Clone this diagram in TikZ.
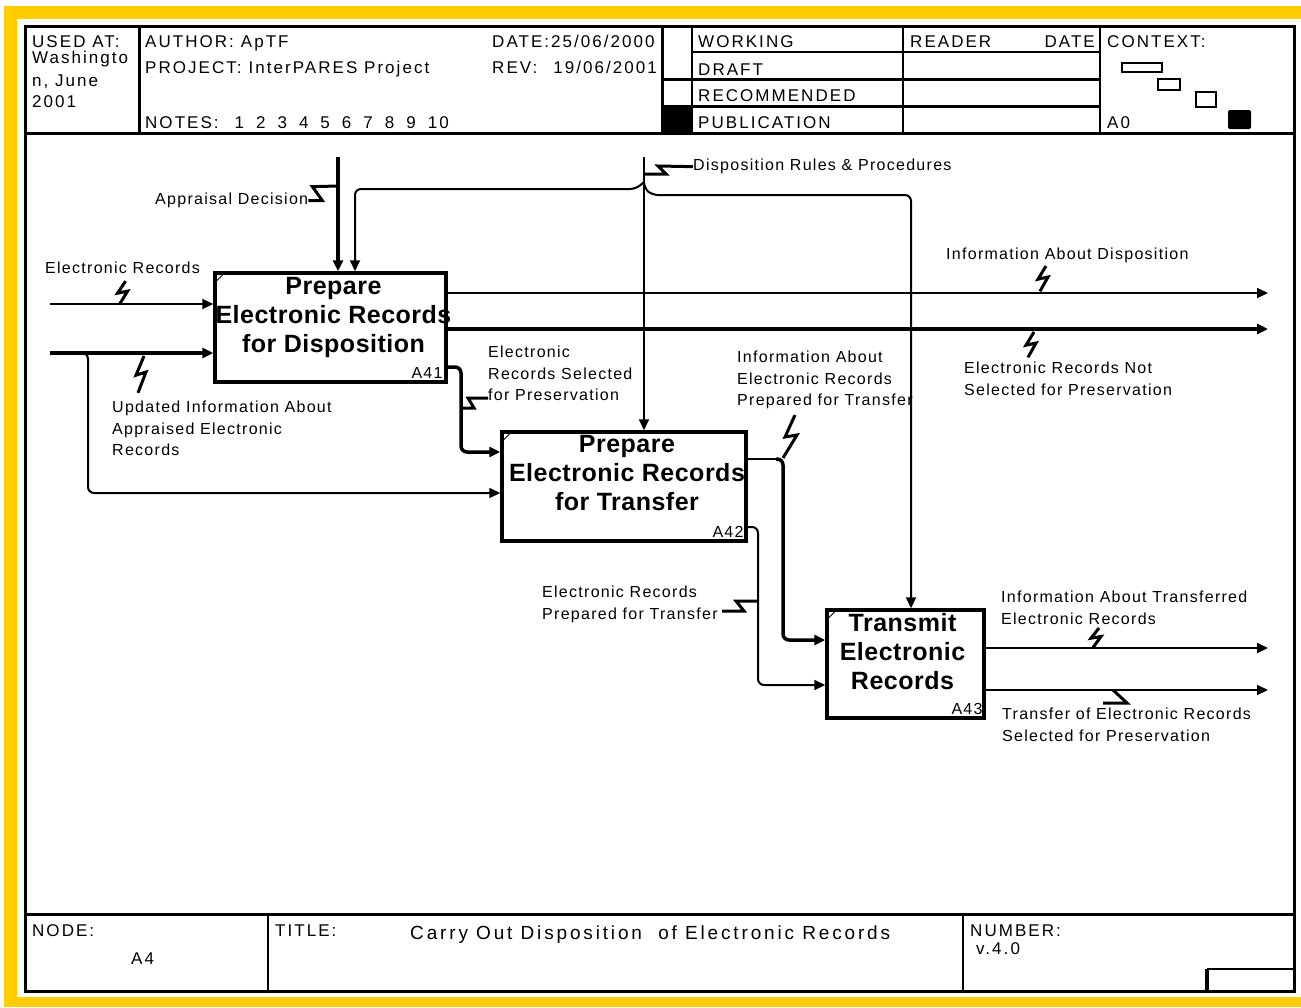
\documentclass[tikz,border=0pt]{standalone}
\usepackage{fontspec}
\setmainfont{Liberation Sans}
\newfontfamily\lblfam[LetterSpace=8]{Liberation Sans}
\newfontfamily\hdrfam[LetterSpace=12]{Liberation Sans}
\newfontfamily\boxfam[LetterSpace=2]{Liberation Sans}
\newfontfamily\ttlfam[LetterSpace=15]{Liberation Sans}
\newcommand\lblfont{\lblfam\fontsize{16}{21.5}\selectfont}
\newcommand\hdrfont{\hdrfam\fontsize{17}{20}\selectfont}
\newcommand\boxfont{\boxfam\bfseries\fontsize{25}{29}\selectfont}
\newcommand\ttlfont{\ttlfam\fontsize{19}{22}\selectfont}
\usetikzlibrary{arrows.meta,calc,positioning}
\definecolor{bandyellow}{HTML}{FFCC00}

\begin{document}
\begin{tikzpicture}[
	% pixel grid, y runs downwards:
	x=1pt, y=-1pt,
	frame/.style={line width=3pt},
	rule/.style={line width=2pt},
	hdr/.style={font=\hdrfont, inner sep=0pt, anchor=base west},
	lbl/.style={font=\lblfont, align=left, inner sep=0pt, anchor=north west},
	proc/.style={draw, line width=3.5pt, inner sep=0pt},
	proctitle/.style={font=\boxfont, align=center, inner sep=0pt},
	procid/.style={font=\lblfont, inner sep=0pt, anchor=south east},
	flow/.style={line width=2pt, rounded corners=6pt, -{Triangle[length=11pt,width=10pt]}},
	flowthick/.style={flow, line width=3.5pt},
	squig/.style={line width=3pt, line join=miter},
	bolt/.pic={\draw[squig] (3,0) -- (-5,12) -- (5,10) -- (-3,23);}
	]
	\useasboundingbox (0,0) rectangle (1301,1007);
	
	% yellow band
	\fill[bandyellow] (4,6) rectangle (1301,19);
	\fill[bandyellow] (4,6) rectangle (17,1007);
	\fill[bandyellow] (4,997) rectangle (1301,1007);
	
	%
	% Form: header and footer
	%
	\draw[frame] (25,26) rectangle (1294,991);
	\draw[frame] (25,133) -- (1294,133);
	\draw[frame] (25,914) -- (1294,914);
	\draw[frame] (139,26) -- (139,133);
	\draw[frame] (662,26) -- (662,133);
	\foreach \x in {692,903,1100}
		\draw[rule] (\x,26) -- (\x,133);
	\draw[rule] (692,52) -- (1100,52);
	\foreach \y in {79,106}
		\draw[frame] (662,\y) -- (1100,\y);
	\fill (662,106) rectangle (692,133);
	\draw[rule] (268,914) -- (268,991);
	\draw[rule] (963,914) -- (963,991);
	\draw[rule] (1207,969) -- (1294,969);
	\draw[line width=4pt] (1207,969) -- (1207,991);
	
	\node[hdr] (usedat) at (32,47) {USED AT:};
	\node[hdr] (used1) at (32,63) {Washingto};
	\node[hdr] (used2) at (32,86) {n, June};
	\node[hdr] (used3) at (32,107) {2001};
	\node[hdr] (author) at (145,47) {AUTHOR:\hspace{7pt}ApTF};
	\node[hdr] (project) at (145,73) {PROJECT:\hspace{7pt}InterPARES Project};
	\node[hdr] (notes) at (145,128) {NOTES:\hspace{16pt}1\hspace{12pt}2\hspace{12pt}3\hspace{12pt}4\hspace{12pt}5\hspace{12pt}6\hspace{12pt}7\hspace{12pt}8\hspace{12pt}9\hspace{12pt}10};
	\begin{scope}
		\clip (480,26) rectangle (661,133);
		\node[hdr] (date) at (492,47) {DATE:25/06/2000};
		\node[hdr] (rev) at (492,73) {REV:\hspace{16pt}19/06/2001};
	\end{scope}
	\foreach \y/\t in {47/WORKING,75/DRAFT,101/RECOMMENDED,128/PUBLICATION}
		\node[hdr] (st-\t) at (698,\y) {\t};
	\node[hdr] (reader) at (910,47) {READER};
	\node[hdr, anchor=base east] (rdate) at (1095,47) {DATE};
	\node[hdr] (context) at (1107,47) {CONTEXT:};
	\node[hdr] (ctxnode) at (1107,128) {A0};
	% context icons
	\draw[line width=2.5pt] (1122,63) rectangle (1162,72);
	\draw[line width=1.5pt] (1158,79) rectangle (1180,90);
	\draw[line width=2.5pt] (1196,92) rectangle (1216,107);
	\fill[rounded corners=2pt] (1228,110) rectangle (1251,129);
	
	\node[hdr] (nodelbl) at (32,936) {NODE:};
	\node[hdr] (nodeno) at (131,964) {A4};
	\node[hdr] (titlelbl) at (275,936) {TITLE:};
	\node[hdr, font=\ttlfont] (title) at (410,939) {Carry Out Disposition\ \ of Electronic Records};
	\node[hdr] (numlbl) at (970,936) {NUMBER:};
	\node[hdr] (numval) at (976,954) {v.4.0};
	
	%
	% Activities
	%
	\node[proc, minimum width=231pt, minimum height=109pt] (a41) at (330.5,327.5) {};
	\node[proc, minimum width=244pt, minimum height=109pt] (a42) at (624,486.5) {};
	\node[proc, minimum width=157pt, minimum height=108pt] (a43) at (905.5,664) {};
	\node[proctitle, below=6pt of a41.north, xshift=3pt] (a41t) {Prepare\\Electronic Records\\for Disposition};
	\node[proctitle, below=5pt of a42.north, xshift=3pt] (a42t) {Prepare\\Electronic Records\\for Transfer};
	\node[proctitle, below=5pt of a43.north, xshift=-3pt] (a43t) {Transmit\\Electronic\\Records};
	\node[procid] (a41id) at ($(a41.south east)+(-5,-5)$) {A41};
	\node[procid] (a42id) at ($(a42.south east)+(-4,-5)$) {A42};
	\node[procid] (a43id) at ($(a43.south east)+(-3,-5)$) {A43};
	\foreach \b in {a41,a42,a43}
		\draw[line width=1pt] ($(\b.north west)+(3,10)$) -- ++(7,-7);
	
	%
	% Inputs
	%
	\coordinate (er) at (50,304);
	\draw[flow] (er) -- (er -| a41.west);
	\coordinate (ui) at (50,353);
	\draw[flowthick] (ui) -- (ui -| a41.west);
	\coordinate (uib) at (88,353);
	\coordinate (uid) at (88,493);
	\draw[flow] ($(uib)+(-8,0)$) -- (uib) -- (uid) -- (uid -| a42.west);
	
	%
	% Controls
	%
	\coordinate (ad) at (338,157);
	\draw[flowthick] (ad) -- (ad |- a41.north);
	\coordinate (dr) at (644,157);
	\draw[flow] (dr) -- (dr |- a42.north);
	\coordinate (drj) at (644,182);
	\coordinate (drl) at (355,189);
	\draw[flow] (drj) -- ++(-8,7) -- (drl) -- (drl |- a41.north);
	\coordinate (drr) at (911,195);
	\draw[flow] (drj) -- ++(0,6) -- ++(8,7) -- (drr) -- (drr |- a43.north);
	
	%
	% Outputs
	%
	\coordinate (iad) at (1268,293);
	\draw[flow] (iad -| a41.east) -- (iad);
	\coordinate (ern) at (1268,329);
	\draw[flowthick] (ern -| a41.east) -- (ern);
	\coordinate (sel1) at (461,367);
	\coordinate (sel2) at (461,452);
	\draw[flowthick] (sel1 -| a41.east) -- (sel1) -- (sel2) -- (sel2 -| a42.west);
	\coordinate (ip1) at (783,459);
	\coordinate (ip2) at (783,640);
	\draw[line width=2pt] (ip1 -| a42.east) -- ($(ip1)+(-7,0)$);
	\draw[flowthick] ($(ip1)+(-7,0)$) -- (ip1) -- (ip2) -- (ip2 -| a43.west);
	\coordinate (ep1) at (758,527);
	\coordinate (ep2) at (758,685);
	\draw[flow] (ep1 -| a42.east) -- (ep1) -- (ep2) -- (ep2 -| a43.west);
	\coordinate (it) at (1268,648);
	\draw[flow] (it -| a43.east) -- (it);
	\coordinate (tr) at (1268,690);
	\draw[flow] (tr -| a43.east) -- (tr);
	
	%
	% Arrow labels
	%
	\node[lbl] (lad) at (155,193) {Appraisal Decision};
	\node[lbl] (ler) at (45,262) {Electronic Records};
	\node[lbl] (lui) at (112,401) {Updated Information About\\Appraised Electronic\\Records};
	\node[lbl] (ldr) at (693,159) {Disposition Rules \& Procedures};
	\node[lbl] (liad) at (946,248) {Information About Disposition};
	\node[lbl] (lern) at (964,362) {Electronic Records Not\\Selected for Preservation};
	\node[lbl] (lsel) at (488,346) {Electronic\\Records Selected\\for Preservation};
	\node[lbl] (lip) at (737,351) {Information About\\Electronic Records\\Prepared for Transfer};
	\node[lbl] (lep) at (542,586) {Electronic Records\\Prepared for Transfer};
	\node[lbl] (lit) at (1001,591) {Information About Transferred\\Electronic Records};
	\node[lbl] (ltr) at (1002,708) {Transfer of Electronic Records\\Selected for Preservation};
	
	% squiggles
	\pic at ($(ler.south)+(0,7)$) {bolt};
	\pic[yscale=1.6] at (141,356) {bolt};
	\pic[yscale=1.1] at (1043,266) {bolt};
	\pic[yscale=1.1] at (1031,332) {bolt};
	\pic[yscale=0.85] at (1096,628) {bolt};
	\draw[squig] (795,415) -- (785,437) -- (797,435) -- (783,458);
	\coordinate (adj) at (338,186);
	\draw[squig] (lad.east) -- ++(14,0) -- ++(-10,-14) -- (adj);
	\coordinate (drs) at (644,174);
	\draw[squig] (drs) -- ++(22,0) -- ++(-8,-8) -- (ldr.west);
	\coordinate (sels) at (461,408);
	\draw[squig] (sels) -- ++(13,0) -- ++(-6,-10) -- ++(20,0);
	\coordinate (eps) at (758,601);
	\draw[squig] (eps) -- ++(-22,0) -- ++(8,10) -- ++(-22,0);
	\coordinate (trs) at (1113,690);
	\draw[squig] (trs) -- ++(14,13) -- ++(-24,0);
\end{tikzpicture}
\end{document}
